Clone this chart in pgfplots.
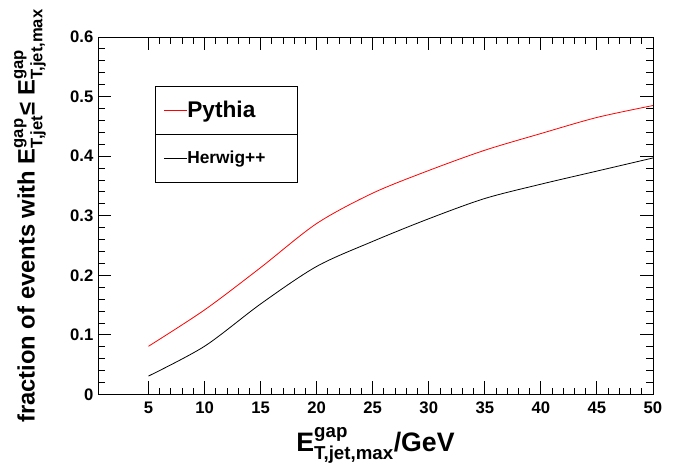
\documentclass[border=0pt]{standalone}
\usepackage{pgfplots}
\pgfplotsset{compat=1.18}
\usepackage{amsmath}
\usepackage{fontspec}
\setmainfont{Liberation Sans}
\usetikzlibrary{calc}

\newcommand{\Egap}[1]{E$^{\text{gap}}_{\text{#1}}$}

\begin{document}
\begin{tikzpicture}
\begin{axis}[
  name=ax,
  scale only axis,
  width=416pt, height=268pt,
  xmin=0.5, xmax=50, ymin=0, ymax=0.6,
  xtick={5,10,...,50}, ytick={0,0.1,...,0.6},
  minor x tick num=4, minor y tick num=4,
  major tick length=10pt, minor tick length=5pt,
  tick style={black, line width=0.7pt},
  yticklabel style={/pgf/number format/fixed, /pgf/number format/precision=1},
  ticklabel style={font=\bfseries\fontsize{12.5}{14}\selectfont, /pgf/number format/assume math mode=true},
  xticklabel style={yshift=-2pt},
  every axis y label/.style={at={(axis description cs:-0.1226,0.5)}, rotate=90, anchor=center},
  every axis x label/.style={at={(axis description cs:0.5,-0.143)}, anchor=center},
  ylabel={\bfseries\fontsize{17.8}{19}\selectfont fraction of events with \Egap{T,jet}≤ \Egap{T,jet,max}},
  xlabel={\bfseries\fontsize{20}{22}\selectfont \Egap{T,jet,max}/GeV},
  legend style={at={(rel axis cs:0.1035,0.863)}, anchor=north west, draw=black, fill=none,
    inner xsep=6pt, inner ysep=0pt, row sep=0pt,
    nodes={inner sep=0pt, minimum height=36pt, anchor=west}},
  legend cell align=left,
]
\addplot[red, line width=0.6pt, smooth] coordinates {
  (5,0.081) (10,0.142) (15,0.213) (20,0.287) (25,0.338)
  (30,0.376) (35,0.410) (40,0.438) (45,0.465) (50,0.485)
};
\addplot[black, line width=0.6pt, smooth] coordinates {
  (5,0.031) (10,0.081) (15,0.152) (20,0.215) (25,0.257)
  (30,0.295) (35,0.329) (40,0.353) (45,0.375) (50,0.397)
};
\legend{{\bfseries\fontsize{17}{19}\selectfont Pythia}, {\bfseries\fontsize{13}{15}\selectfont Herwig++\rule{18pt}{0pt}}}
\draw (rel axis cs:0.1035,0.728) -- (rel axis cs:0.359,0.728);
\end{axis}
\pgfresetboundingbox
\useasboundingbox ($(ax.south west)+(-73.5pt,-59.25pt)$) rectangle ($(ax.north east)+(22.5pt,27.75pt)$);
\end{tikzpicture}
\end{document}
